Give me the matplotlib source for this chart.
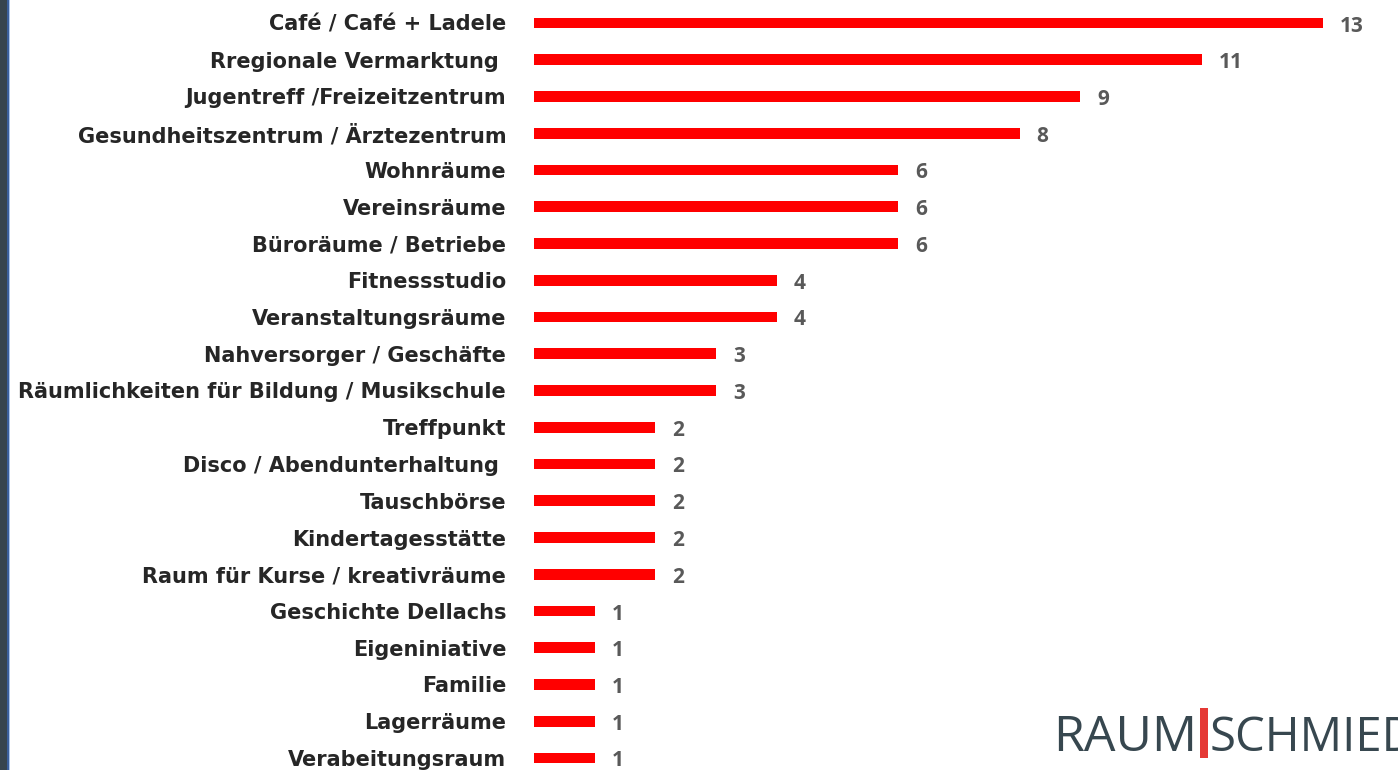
import matplotlib
matplotlib.use("Agg")
import matplotlib.pyplot as plt
from matplotlib.patches import Rectangle

categories = [
    "Café / Café + Ladele",
    "Rregionale Vermarktung ",
    "Jugentreff /Freizeitzentrum",
    "Gesundheitszentrum / Ärztezentrum",
    "Wohnräume",
    "Vereinsräume",
    "Büroräume / Betriebe",
    "Fitnessstudio",
    "Veranstaltungsräume",
    "Nahversorger / Geschäfte",
    "Räumlichkeiten für Bildung / Musikschule",
    "Treffpunkt",
    "Disco / Abendunterhaltung ",
    "Tauschbörse",
    "Kindertagesstätte",
    "Raum für Kurse / kreativräume",
    "Geschichte Dellachs",
    "Eigeniniative",
    "Familie",
    "Lagerräume",
    "Verabeitungsraum",
]
values = [13, 11, 9, 8, 6, 6, 6, 4, 4, 3, 3, 2, 2, 2, 2, 2, 1, 1, 1, 1, 1]

W, H = 1398, 770
fig = plt.figure(figsize=(W / 100, H / 100), dpi=100)
fig.patch.set_facecolor("white")

x0 = 534
unit = 60.7
row0 = 23
step = 36.75

ax = fig.add_axes([x0 / W, 0, (W - x0) / W, 1])
ax.set_xlim(0, (W - x0) / unit)
ax.set_ylim((H - row0) / step, -row0 / step)
ypos = list(range(len(categories)))
ax.barh(ypos, values, height=0.29, color="#ff0000", edgecolor="none")
for y, v in zip(ypos, values):
    ax.text(v + 17 / unit, y + 3 / step, str(v), va="center", ha="left",
            fontsize=15, fontweight="bold", color="#595959", family="Open Sans")
ax.set_yticks(ypos)
ax.set_yticklabels(categories, fontsize=15, fontweight="bold",
                   color="#262626", family="DejaVu Sans")
ax.tick_params(axis="y", length=0, pad=20)
ax.tick_params(axis="x", bottom=False, labelbottom=False)
for s in ax.spines.values():
    s.set_visible(False)
ax.set_facecolor("none")

# left frame strip
fig.add_artist(Rectangle((0, 0), 8 / W, 1, transform=fig.transFigure,
                         facecolor="#37444d", edgecolor="none"))
fig.add_artist(Rectangle((7 / W, 0), 2 / W, 1, transform=fig.transFigure,
                         facecolor="#3b5f9a", edgecolor="none"))
fig.add_artist(Rectangle((9 / W, 0), 1 / W, 1, transform=fig.transFigure,
                         facecolor="#a9c3ea", edgecolor="none"))

# logo
logo_col = "#37474f"
fig.text(1197 / W, 1 - 751 / H, "RAUM", ha="right", va="baseline",
         fontsize=36, color=logo_col, family="Open Sans")
fig.text(1210 / W, 1 - 751 / H, "SCHMIED", ha="left", va="baseline",
         fontsize=34, color=logo_col, family="Open Sans")
fig.add_artist(Rectangle((1200 / W, 1 - 758 / H), 8 / W, 50 / H,
                         transform=fig.transFigure, facecolor="#e53935",
                         edgecolor="none"))

fig.savefig("out.png", dpi=100)
